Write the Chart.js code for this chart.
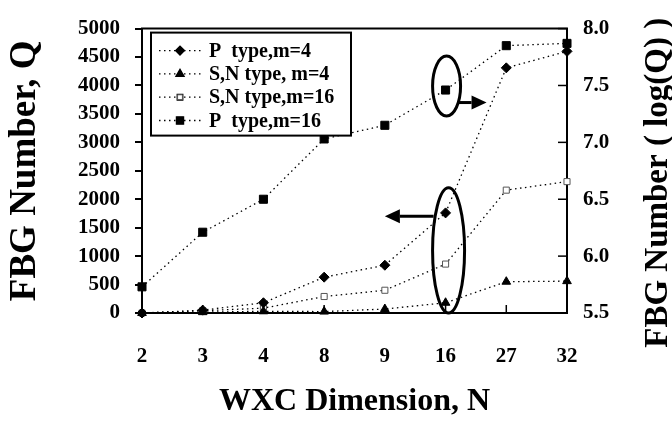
<!DOCTYPE html>
<html>
<head>
<meta charset="utf-8">
<script src="https://cdn.jsdelivr.net/npm/chart.js@4.4.1/dist/chart.umd.min.js"></script>
<style>
  html, body { margin: 0; padding: 0; background: #fff; }
  #wrap { width: 672px; height: 421px; }
</style>
</head>
<body>
<div id="wrap"><canvas id="fbgchart"></canvas></div>
<script>
// data
const dimensions = ['2', '3', '4', '8', '9', '16', '27', '32'];
const pTypeM4 = [0, 50, 180, 630, 840, 1760, 4310, 4600];
const snTypeM4 = [0, 15, 30, 25, 70, 180, 550, 560];
const snTypeM16 = [0, 40, 85, 290, 400, 860, 2160, 2310];
const pTypeM16Log = [5.73, 6.21, 6.50, 7.03, 7.15, 7.46, 7.85, 7.87];
const leftTicks = [0, 500, 1000, 1500, 2000, 2500, 3000, 3500, 4000, 4500, 5000];
const rightTicks = [5.5, 6.0, 6.5, 7.0, 7.5, 8.0];
const legendNames = ['P  type,m=4', 'S,N type, m=4', 'S,N type,m=16', 'P  type,m=16'];
const rightTitle = 'FBG Number ( log(Q) )';

const serif = 'Liberation Serif';
const dash = [1.5, 3.5];

function series(label, data, style, radius, fill, axis) {
  return {
    label: label,
    data: data,
    yAxisID: axis,
    borderColor: '#000',
    borderWidth: 1.3,
    borderDash: dash,
    pointStyle: style,
    pointRadius: radius,
    pointBackgroundColor: fill,
    pointBorderColor: fill === '#fff' ? '#555' : '#000',
    pointBorderWidth: 1,
    tension: 0,
    fill: false,
    clip: false
  };
}

const fbgdata = {
  labels: dimensions,
  datasets: [
    series(legendNames[0], pTypeM4, 'rectRot', 5, '#000', 'y'),
    series(legendNames[1], snTypeM4, 'triangle', 5, '#000', 'y'),
    series(legendNames[2], snTypeM16, 'rect', 4.3, '#fff', 'y'),
    series(legendNames[3], pTypeM16Log, 'rect', 5.7, '#000', 'y1')
  ]
};

// white page, frame, inward ticks, ellipses + arrows, boxed legend, right title
const extras = {
  id: 'extras',
  beforeDraw(chart) {
    const ctx = chart.ctx;
    ctx.save();
    ctx.fillStyle = '#fff';
    ctx.fillRect(0, 0, chart.width, chart.height);
    ctx.restore();
  },
  afterDatasetsDraw(chart) {
    const ctx = chart.ctx;
    const a = chart.chartArea;
    const x = chart.scales.x, y = chart.scales.y, y1 = chart.scales.y1;
    ctx.save();
    ctx.strokeStyle = '#000';
    ctx.lineWidth = 2;
    // top frame line
    ctx.beginPath();
    ctx.moveTo(a.left - 1, a.top);
    ctx.lineTo(a.right + 1, a.top);
    ctx.stroke();
    // inward ticks on x axis and right axis
    ctx.lineWidth = 1.5;
    for (let i = 1; i < dimensions.length - 1; i++) {
      const px = x.getPixelForValue(i);
      ctx.beginPath();
      ctx.moveTo(px, a.bottom);
      ctx.lineTo(px, a.bottom - 8);
      ctx.stroke();
    }
    rightTicks.forEach(v => {
      const py = y1.getPixelForValue(v);
      ctx.beginPath();
      ctx.moveTo(a.right, py);
      ctx.lineTo(a.right - 9, py);
      ctx.stroke();
    });

    // ellipses and arrows at N=16
    const x16 = x.getPixelForValue(5);
    ctx.lineWidth = 3;
    const upY = y1.getPixelForValue(pTypeM16Log[5]) - 4;
    ctx.beginPath();
    ctx.ellipse(x16 + 1, upY, 14, 30, 0, 0, Math.PI * 2);
    ctx.stroke();
    const loTop = y.getPixelForValue(2200), loBot = y.getPixelForValue(0);
    ctx.beginPath();
    ctx.ellipse(x16 + 3, (loTop + loBot) / 2, 16, (loBot - loTop) / 2, 0, 0, Math.PI * 2);
    ctx.stroke();

    function arrow(x0, yy, x1) {
      const dir = Math.sign(x1 - x0);
      const head = 15;
      ctx.beginPath();
      ctx.moveTo(x0, yy);
      ctx.lineTo(x1 - dir * head, yy);
      ctx.stroke();
      ctx.beginPath();
      ctx.moveTo(x1, yy);
      ctx.lineTo(x1 - dir * head, yy - 7);
      ctx.lineTo(x1 - dir * head, yy + 7);
      ctx.closePath();
      ctx.fillStyle = '#000';
      ctx.fill();
    }
    arrow(x16 + 12, y1.getPixelForValue(7.35), x16 + 41);
    arrow(x16 - 12, y.getPixelForValue(1700), x.getPixelForValue(4));

    // legend box
    const lx = a.left + 9, ly = a.top + 4, lw = 200, lh = 103;
    ctx.fillStyle = '#fff';
    ctx.fillRect(lx, ly, lw, lh);
    ctx.lineWidth = 2;
    ctx.strokeRect(lx, ly, lw, lh);
    ctx.font = 'bold 20px "' + serif + '"';
    ctx.textBaseline = 'middle';
    ctx.textAlign = 'left';
    chart.data.datasets.forEach((ds, i) => {
      const ry = ly + 18 + i * 23.3;
      ctx.save();
      ctx.lineWidth = ds.borderWidth;
      ctx.setLineDash(dash);
      ctx.beginPath();
      ctx.moveTo(lx + 8, ry);
      ctx.lineTo(lx + 50, ry);
      ctx.stroke();
      ctx.restore();
      Chart.helpers.drawPoint(ctx, {
        pointStyle: ds.pointStyle,
        radius: ds.pointRadius * 0.8,
        borderWidth: 1,
        rotation: 0
      }, lx + 29, ry);
      ctx.save();
      ctx.fillStyle = ds.pointBackgroundColor;
      ctx.strokeStyle = ds.pointBorderColor;
      ctx.lineWidth = 1;
      ctx.fill();
      ctx.stroke();
      ctx.restore();
      ctx.fillStyle = '#000';
      ctx.fillText(ds.label, lx + 58, ry + 1);
    });

    // right axis title, reading bottom to top
    ctx.save();
    ctx.translate(y1.right - 14, (a.top + a.bottom) / 2 + 12);
    ctx.rotate(-Math.PI / 2);
    ctx.font = 'bold 33px "' + serif + '"';
    ctx.textAlign = 'center';
    ctx.textBaseline = 'middle';
    ctx.fillStyle = '#000';
    ctx.fillText(rightTitle, 0, 0);
    ctx.restore();
    ctx.restore();
  }
};

const fbgconfig = {
  type: 'line',
  data: fbgdata,
  plugins: [extras],
  options: {
    responsive: true,
    maintainAspectRatio: false,
    animation: false,
    layout: { padding: { top: 15, left: 0, right: 0, bottom: 0 } },
    plugins: {
      legend: { display: false },
      tooltip: { enabled: false }
    },
    scales: {
      x: {
        type: 'category',
        offset: false,
        afterFit(s) { s.height = 108; },
        grid: { drawOnChartArea: false, drawTicks: false },
        border: { display: true, color: '#000', width: 2 },
        ticks: {
          color: '#000',
          padding: 31,
          maxRotation: 0,
          font: { family: serif, size: 21, weight: 'bold' }
        },
        title: {
          display: true,
          text: 'WXC Dimension, N',
          color: '#000',
          padding: { top: 0, bottom: 3 },
          font: { family: serif, size: 32, weight: 'bold', lineHeight: 1 }
        }
      },
      y: {
        position: 'left',
        min: 0,
        max: 5000,
        afterFit(s) { s.width = 142; },
        afterBuildTicks(s) { s.ticks = leftTicks.map(v => ({ value: v })); },
        grid: { drawOnChartArea: false, drawTicks: true, tickLength: 7, color: '#000', lineWidth: 2 },
        border: { display: true, color: '#000', width: 2 },
        ticks: {
          color: '#000',
          padding: 15,
          callback: v => String(v),
          font: { family: serif, size: 21, weight: 'bold' }
        },
        title: {
          display: true,
          text: 'FBG Number, Q',
          color: '#000',
          padding: { top: 7, bottom: 0 },
          font: { family: serif, size: 37, weight: 'bold', lineHeight: 1 }
        }
      },
      y1: {
        position: 'right',
        min: 5.5,
        max: 8.0,
        afterFit(s) { s.width = 105; },
        afterBuildTicks(s) { s.ticks = rightTicks.map(v => ({ value: v })); },
        grid: { drawOnChartArea: false, drawTicks: false },
        border: { display: true, color: '#000', width: 2 },
        ticks: {
          color: '#000',
          padding: 16,
          callback: v => Number(v).toFixed(1),
          font: { family: serif, size: 21, weight: 'bold' }
        },
        title: { display: false }
      }
    }
  }
};

const fbgchart = new Chart(document.getElementById('fbgchart'), fbgconfig);
</script>
</body>
</html>
